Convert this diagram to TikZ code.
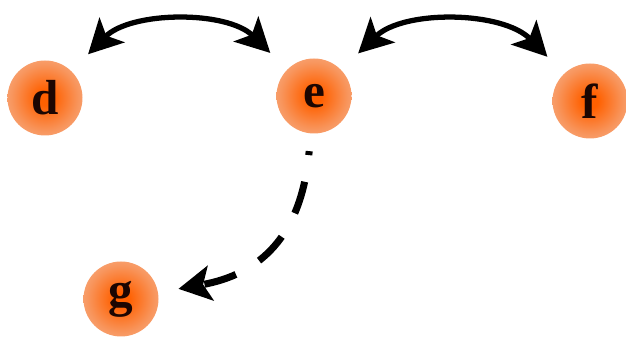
\documentclass[tikz,border=0pt]{standalone}
\usepackage{fontspec}
\setmainfont{Liberation Serif}
\usepackage{tikz}
\usetikzlibrary{arrows.meta}
\definecolor{ballCore}{HTML}{FF6000}
\definecolor{ballMid}{HTML}{F8955C}
\definecolor{ballEdge}{HTML}{F6B692}
\definecolor{ballHalo}{HTML}{FADBC9}
\definecolor{ballText}{HTML}{1C0602}
\pgfdeclareradialshading{ballglow}{\pgfpoint{0bp}{0bp}}{color(0bp)=(ballCore); color(5bp)=(ballCore); color(22bp)=(ballMid); color(35bp)=(ballEdge); color(45bp)=(ballHalo); color(50bp)=(white)}

\begin{document}
\begin{tikzpicture}[
  ball/.style={circle, shading=ballglow, minimum size=1.5cm, inner sep=0pt,
               text=ballText, font=\fontsize{28}{30}\selectfont\bfseries},
  a/.style={{Stealth[length=6.8mm,width=7mm,inset=1.6mm]}-{Stealth[length=6.8mm,width=7mm,inset=1.6mm]},
            line width=3pt, shorten <=0.47cm, shorten >=0.47cm},
  dsh/.style={-{Stealth[length=6.5mm,width=7mm,inset=1.5mm]}, line width=4pt,
              dash pattern=on 0.66cm off 0.54cm, dash phase=0.58cm,
              shorten <=0.35cm, shorten >=0.41cm}
]
\useasboundingbox (0,0) rectangle (12.52,6.82);
\node[ball] (d) at (0.9,4.86) {d};
\node[ball] (e) at (6.28,4.9) {e};
\node[ball] (f) at (11.8,4.8) {f};
\node[ball] (g) at (2.42,0.84) {g};

\draw[a] (d) to[bend left=45] (e);
\draw[a] (e) to[bend left=45] (f);
\draw[dsh] (e) to[out=-95, in=10, looseness=1.2] (g);
\end{tikzpicture}
\end{document}
